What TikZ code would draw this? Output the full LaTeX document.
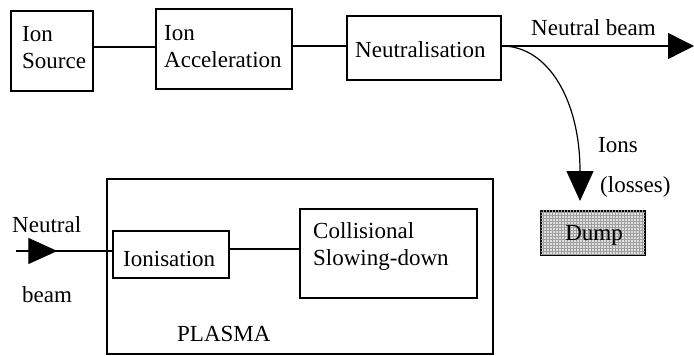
\documentclass[tikz,border=0pt]{standalone}
\usepackage{fontspec}
\setmainfont{Liberation Serif}
\usetikzlibrary{arrows.meta,patterns,decorations.markings}
\begin{document}
\begin{tikzpicture}[x=1pt,y=-1pt,
  box/.style={draw,line width=1.8pt,inner sep=0pt,anchor=north west},
  txt/.style={inner sep=0pt,font=\fontsize{23}{27}\selectfont,align=left},
  conn/.style={line width=1.4pt},
  bigtip/.style={-{Triangle[length=26pt,width=26pt]}}]
\useasboundingbox (0,0) rectangle (694,356);
% top row
\node[box,minimum width=82pt,minimum height=80pt] (src) at (10,10) {};
\node[txt,anchor=base west] (srct) at (22,68) {Ion\\Source};
\node[box,minimum width=136pt,minimum height=80pt] (acc) at (155,8) {};
\node[txt,anchor=base west] (acct) at (164,67) {Ion\\Acceleration};
\node[box,minimum width=154pt,minimum height=64pt] (neu) at (346,15) {};
\node[txt,anchor=base west] (neut) at (355,57) {Neutralisation};
\draw[conn] (src.east |- 0,47) -- (acc.west |- 0,47);
\draw[conn] (acc.east |- 0,46) -- (neu.west |- 0,46);
\coordinate (beamend) at (694,46);
\draw[conn,bigtip] (neu.east |- 0,46) -- (beamend);
\node[txt,anchor=base west] (nbl) at (531,35) {Neutral beam};
% ions to dump
\coordinate (ionsend) at (580,201);
\draw[line width=1.2pt,-{Triangle[length=30pt,width=27pt]}] (neu.east |- 0,46) .. controls (548,46) and (580,100) .. (ionsend);
\node[txt,anchor=base west] (ionsl) at (598,152) {Ions};
\node[txt,anchor=base west] (lossl) at (600,192) {(losses)};
\node[box,minimum width=104pt,minimum height=44pt,fill=gray!25,
  postaction={pattern=grid,pattern color=gray!75}] (dump) at (540,210) {};
\node[txt,anchor=base] (dumpt) at (594,240) {Dump};
% plasma
\node[box,line width=1.5pt,minimum width=386pt,minimum height=175pt] (plasma) at (106,178) {};
\node[txt,anchor=base west] (plt) at (177,341) {PLASMA};
\node[box,minimum width=116pt,minimum height=47pt] (ion) at (112,230) {};
\node[txt,anchor=base west] (iont) at (123,266) {Ionisation};
\node[box,minimum width=177pt,minimum height=89pt] (col) at (299,208) {};
\node[txt,anchor=base west] (colt) at (313,265) {Collisional\\Slowing-down};
\draw[conn] (ion.east |- 0,249) -- (col.west |- 0,249);
\coordinate (nbstart) at (16,251);
\draw[conn,decoration={markings,mark=at position 0.43 with {\arrow{Triangle[length=29pt,width=26pt]}}},postaction={decorate}] (nbstart) -- (ion.west |- 0,251);
\node[txt,anchor=base west] (nbt) at (12,232) {Neutral};
\node[txt,anchor=base west] (nbb) at (22,302) {beam};
\end{tikzpicture}
\end{document}
